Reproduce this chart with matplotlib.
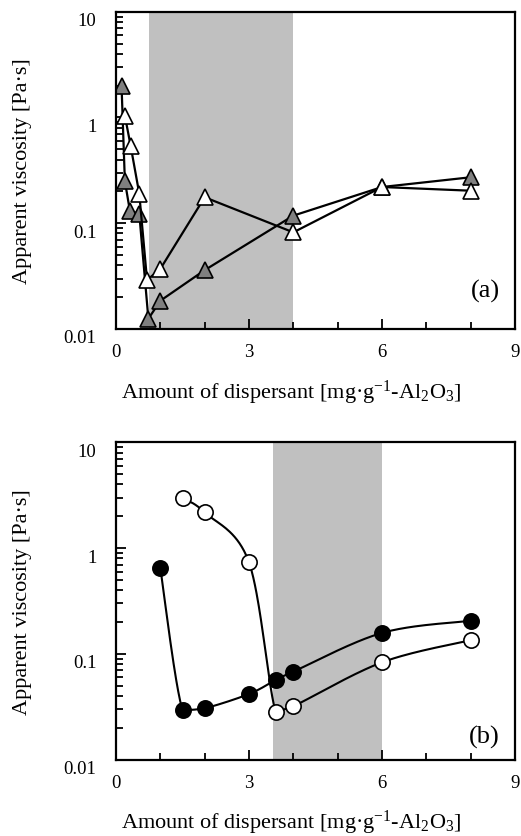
import numpy as np
import matplotlib
matplotlib.use("Agg")
import matplotlib.pyplot as plt
import matplotlib.transforms as mtransforms
from matplotlib.ticker import FixedLocator, FuncFormatter, LogLocator, NullFormatter

plt.rcParams['font.family'] = ['Liberation Serif', 'DejaVu Serif']
plt.rcParams['mathtext.fontset'] = 'custom'
plt.rcParams['mathtext.rm'] = 'Liberation Serif'
plt.rcParams['mathtext.it'] = 'Liberation Serif:italic'

# ---- data, panel (a) ----
a_gray_x = [0.125, 0.2, 0.315, 0.525, 0.73, 1.0, 2.0, 4.0, 6.0, 8.0]
a_gray_y = [2.0, 0.25, 0.13, 0.123, 0.0125, 0.0185, 0.036, 0.118, 0.22, 0.272]
a_white_x = [0.2, 0.33, 0.525, 0.7, 1.0, 2.0, 4.0, 6.0, 8.0]
a_white_y = [1.04, 0.54, 0.19, 0.029, 0.037, 0.176, 0.082, 0.22, 0.203]
a_band = [0.75, 4.0]

# ---- data, panel (b) ----
b_black_x = [1.0, 1.5, 2.0, 3.0, 3.6, 4.0, 6.0, 8.0]
b_black_y = [0.644, 0.0295, 0.0306, 0.0418, 0.0566, 0.068, 0.158, 0.206]
b_white_x = [1.5, 2.0, 3.0, 3.6, 4.0, 6.0, 8.0]
b_white_y = [2.98, 2.18, 0.734, 0.0284, 0.032, 0.0833, 0.135]
b_band = [3.55, 6.0]

x_ticks = [0, 3, 6, 9]
y_ticks = [0.01, 0.1, 1, 10]
y_tick_labels = ['0.01', '0.1', '1', '10']
xlabel = r'Amount of dispersant [mg·g$^{-1}$-Al$_2$O$_3$]'
ylabel = 'Apparent viscosity [Pa·s]'

W, H = 521, 837
fig = plt.figure(figsize=(W / 100, H / 100), dpi=100)

def smooth(xs, ys, n=40):
    # Bezier (Excel-like) smoothing in screen-proportional space, no overshoot
    sx, sy = 44.4, 105.8
    P = np.column_stack([np.array(xs) * sx, np.log10(ys) * sy])
    out = []
    for i in range(len(P) - 1):
        p0 = P[i - 1] if i > 0 else P[i]
        p1 = P[i]
        p2 = P[i + 1]
        p3 = P[i + 2] if i + 2 < len(P) else P[i + 1]
        c1 = p1 + (p2 - p0) / 6.0
        c2 = p2 - (p3 - p1) / 6.0
        lo, hi = min(p1[1], p2[1]), max(p1[1], p2[1])
        c1[1] = np.clip(c1[1], lo, hi)
        c2[1] = np.clip(c2[1], lo, hi)
        t = np.linspace(0, 1, n)[:, None]
        seg = ((1 - t) ** 3) * p1 + 3 * ((1 - t) ** 2) * t * c1 + 3 * (1 - t) * t ** 2 * c2 + t ** 3 * p2
        out.append(seg if i == 0 else seg[1:])
    Q = np.vstack(out)
    return Q[:, 0] / sx, 10 ** (Q[:, 1] / sy)

def style_axes(ax, band, tag, tag_y, xl_y):
    ax.set_xlim(0, 9)
    ax.set_ylim(0.01, 10)
    ax.set_yscale('log')
    ax.axvspan(band[0], band[1], color='#c0c0c0', lw=0, zorder=0)
    ax.xaxis.set_major_locator(FixedLocator(x_ticks))
    ax.xaxis.set_minor_locator(FixedLocator([1, 2, 4, 5, 7, 8]))
    ax.yaxis.set_major_locator(FixedLocator(y_ticks))
    ax.yaxis.set_major_formatter(FuncFormatter(lambda v, p: y_tick_labels[y_ticks.index(v)] if v in y_ticks else ''))
    ax.yaxis.set_minor_locator(LogLocator(base=10, subs=np.arange(2, 10)))
    ax.yaxis.set_minor_formatter(NullFormatter())
    ax.tick_params(axis='both', which='both', direction='in', width=1.3, labelsize=13.5, color='black')
    ax.tick_params(axis='both', which='major', length=7)
    ax.tick_params(axis='both', which='minor', length=5)
    ax.tick_params(axis='x', which='major', pad=10)
    ax.tick_params(axis='y', which='major', pad=14)
    for s in ax.spines.values():
        s.set_linewidth(1.6)
    ax.set_xlabel(xlabel, fontsize=16)
    ax.xaxis.set_label_coords(0.44, xl_y)
    ax.set_ylabel(ylabel, fontsize=16)
    ax.yaxis.set_label_coords(-0.21, 0.5)
    off = mtransforms.ScaledTranslation(0, -7 / 100, fig.dpi_scale_trans)
    for lab in ax.get_yticklabels():
        lab.set_transform(lab.get_transform() + off)
    ax.text(0.962, tag_y, tag, transform=ax.transAxes, ha='right', va='center', fontsize=19)

# panel (a)
ax1 = fig.add_axes([116 / W, 1 - 330 / H, 399 / W, 317.3 / H])
style_axes(ax1, a_band, '(a)', 0.12, -0.155)
ax1.plot(a_gray_x, a_gray_y, color='black', lw=1.6, zorder=2,
         marker='^', ms=12, mfc='#808080', mec='black', mew=1.2)
ax1.plot(a_white_x, a_white_y, color='black', lw=1.6, zorder=3,
         marker='^', ms=12, mfc='white', mec='black', mew=1.2)

# panel (b)
ax2 = fig.add_axes([116 / W, 1 - 760.7 / H, 399 / W, 317.3 / H])
style_axes(ax2, b_band, '(b)', 0.073, -0.152)
sx, sy = smooth(b_black_x, b_black_y)
ax2.plot(sx, sy, color='black', lw=1.5, zorder=2)
ax2.plot(b_black_x, b_black_y, ls='none', marker='o', ms=11, mfc='black', mec='black', mew=1.2, zorder=3)
sx, sy = smooth(b_white_x, b_white_y)
ax2.plot(sx, sy, color='black', lw=1.5, zorder=2)
ax2.plot(b_white_x, b_white_y, ls='none', marker='o', ms=11, mfc='white', mec='black', mew=1.2, zorder=3)

fig.savefig('out.png', dpi=100)
